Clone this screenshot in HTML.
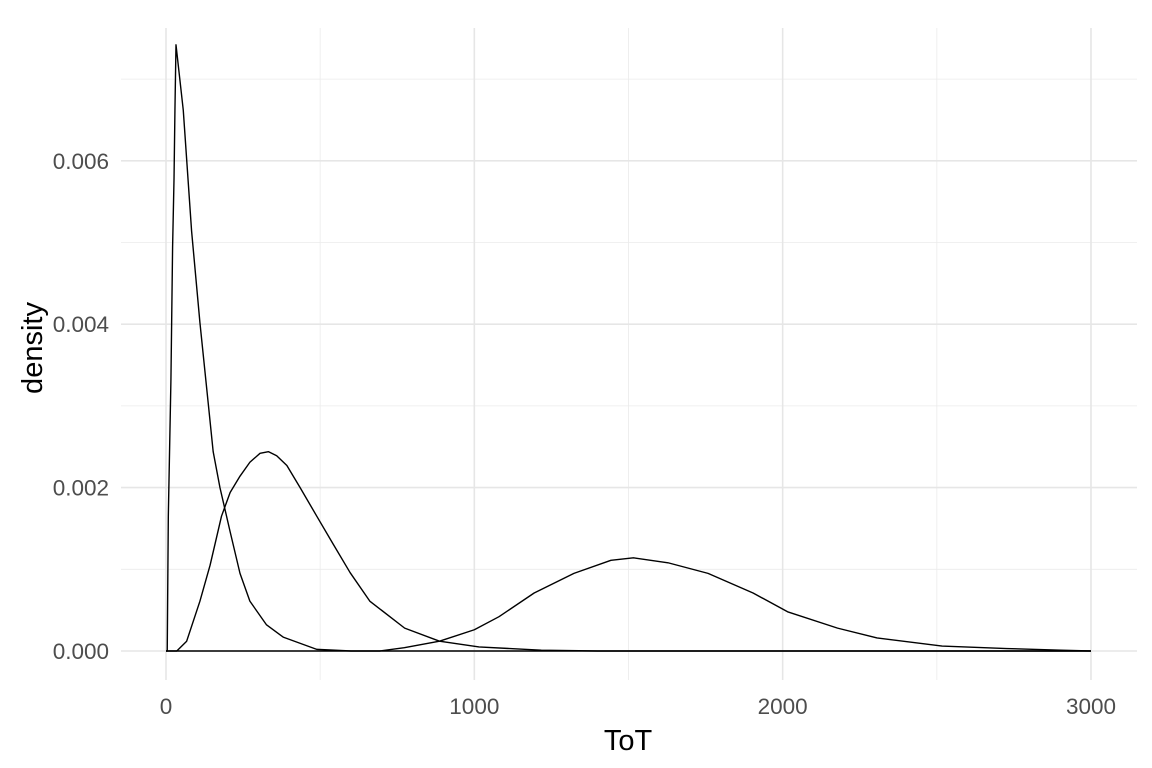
<!DOCTYPE html>
<html><head><meta charset="utf-8">
<style>
html,body{margin:0;padding:0;background:#fff;}
svg{display:block;font-family:"Liberation Sans",Arial,sans-serif;}
</style></head>
<body>
<svg id="chart" width="1152" height="768" viewBox="0 0 1152 768">
  <g id="grid"></g>
  <g id="curves"></g>
  <g id="yticks"></g>
  <g id="xticks"></g>
  <text x="628" y="750" text-anchor="middle" font-size="29" fill="#000">ToT</text>
  <text transform="translate(42,348) rotate(-90)" text-anchor="middle" font-size="29" fill="#000">density</text>
</svg>
<script>
const xTicks = [0, 1000, 2000, 3000];
const xTickLabels = ["0", "1000", "2000", "3000"];
const xMinor = [500, 1500, 2500];
const yTicks = [0, 0.002, 0.004, 0.006];
const yTickLabels = ["0.000", "0.002", "0.004", "0.006"];
const yMinor = [0.001, 0.003, 0.005, 0.007];

const curve1X = [0, 4, 7.5, 16, 21.4, 26, 29, 32.4, 56, 83, 110, 137, 153, 175, 208, 240, 272, 326, 380, 489, 600, 3000];
const curve1Y = [0, 0, 0.00165, 0.00332, 0.00495, 0.00578, 0.00662, 0.00742, 0.00662, 0.00514, 0.00402, 0.00303, 0.00244, 0.002, 0.00146, 0.00095, 0.00061, 0.00032, 0.00017, 0.00002, 0, 0];
const curve2X = [0, 35, 67, 110, 143, 180, 208, 240, 272, 305, 332, 359, 392, 435, 489, 542, 597, 661, 774, 887, 1015, 1217, 1400, 3000];
const curve2Y = [0, 0, 0.00012, 0.00061, 0.00105, 0.00165, 0.00194, 0.00214, 0.00231, 0.00242, 0.00244, 0.00239, 0.00227, 0.002, 0.00165, 0.00131, 0.00096, 0.00061, 0.00028, 0.00012, 0.00005, 0.00001, 0, 0];
const curve3X = [0, 600, 693, 773, 887, 1000, 1080, 1194, 1323, 1443, 1516, 1628, 1758, 1904, 2016, 2178, 2306, 2517, 2727, 2903, 3000];
const curve3Y = [0, 0, 0, 0.00004, 0.00012, 0.00026, 0.00042, 0.00071, 0.00095, 0.00111, 0.00114, 0.00108, 0.00095, 0.00071, 0.00048, 0.00028, 0.00016, 0.00006, 0.00003, 0.00001, 0];

const NS = "http://www.w3.org/2000/svg";
const L = 121, R = 1137, T = 28, B = 680;
function sx(v){ return 166 + v * 0.30833; }
function sy(v){ return 651 - v * 81700; }
function mk(tag, attrs, parent){
  const e = document.createElementNS(NS, tag);
  for (const k in attrs) e.setAttribute(k, attrs[k]);
  parent.appendChild(e);
  return e;
}
const grid = document.getElementById('grid');
yMinor.forEach(v => {
  const l = mk('line', {x1:L, x2:R, y1:sy(v), y2:sy(v), stroke:'#ebebeb', 'stroke-width':0.8}, grid);
  
  
});
xMinor.forEach(v => {
  const l = mk('line', {x1:sx(v), x2:sx(v), y1:T, y2:B, stroke:'#ebebeb', 'stroke-width':0.8}, grid);
  
  
});
yTicks.forEach(v => {
  const l = mk('line', {x1:L, x2:R, y1:sy(v), y2:sy(v), stroke:'#e6e6e6', 'stroke-width':1.6}, grid);
  
  
});
xTicks.forEach(v => {
  const l = mk('line', {x1:sx(v), x2:sx(v), y1:T, y2:B, stroke:'#e6e6e6', 'stroke-width':1.6}, grid);
  
  
});
const yt = document.getElementById('yticks');
yTicks.forEach((v, i) => {
  const t = mk('text', {x:109, y:sy(v) + 8, 'text-anchor':'end', 'font-size':22.5, fill:'#4d4d4d'}, yt);
  
  
  t.textContent = yTickLabels[i];
});
const xt = document.getElementById('xticks');
xTicks.forEach((v, i) => {
  const t = mk('text', {x:sx(v), y:714, 'text-anchor':'middle', 'font-size':22.5, fill:'#4d4d4d'}, xt);
  
  
  t.textContent = xTickLabels[i];
});
const cg = document.getElementById('curves');
[[curve1X, curve1Y, 'curve-1'], [curve2X, curve2Y, 'curve-2'], [curve3X, curve3Y, 'curve-3']].forEach(c => {
  const d = c[0].map((x, i) => (i ? 'L' : 'M') + sx(x).toFixed(2) + ',' + sy(c[1][i]).toFixed(2)).join(' ');
  const p = mk('path', {d:d, fill:'none', stroke:'#000', 'stroke-width':1.4, 'stroke-linejoin':'round'}, cg);
  
  
});
</script>
</body></html>
